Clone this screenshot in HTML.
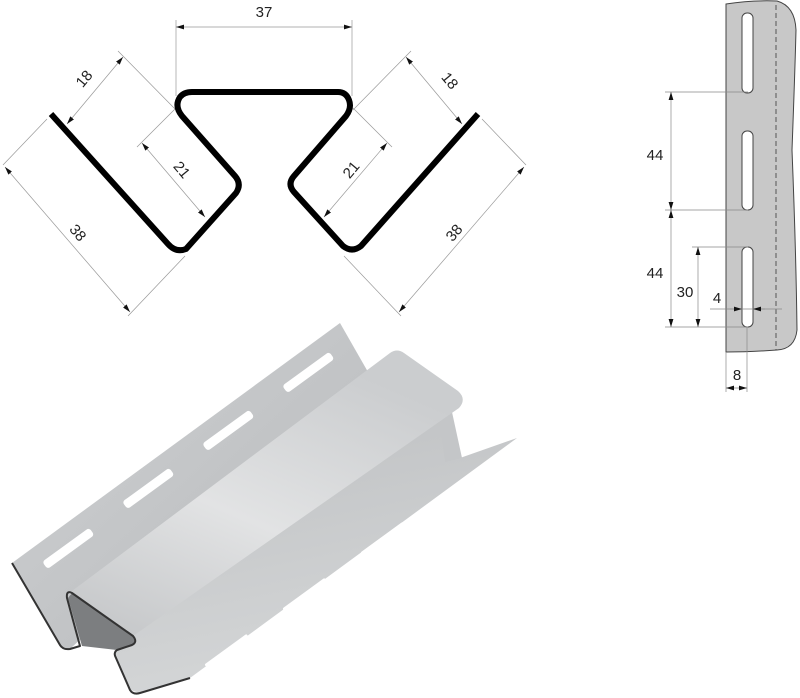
<!DOCTYPE html>
<html><head><meta charset="utf-8"><style>
html,body{margin:0;padding:0;background:#fff;}
svg{display:block;}
text{font-family:"Liberation Sans",Arial,sans-serif;font-size:15px;fill:#222;}
</style></head><body>
<svg width="800" height="698" viewBox="0 0 800 698" xmlns="http://www.w3.org/2000/svg">
<defs>
<marker id="a" viewBox="0 0 10 6" refX="10" refY="3" markerWidth="8" markerHeight="5" orient="auto-start-reverse" markerUnits="userSpaceOnUse"><path d="M0,0 L10,3 L0,6 Z" fill="#111"/></marker>
<linearGradient id="top" x1="0" y1="1" x2="0.6" y2="0"><stop offset="0" stop-color="#c2c4c6"/><stop offset="0.5" stop-color="#e2e3e4"/><stop offset="1" stop-color="#cbcdcf"/></linearGradient>
<linearGradient id="back" x1="0" y1="0" x2="1" y2="1"><stop offset="0" stop-color="#d0d2d4"/><stop offset="1" stop-color="#b6b8ba"/></linearGradient>
<linearGradient id="low" x1="0" y1="0" x2="0.3" y2="1"><stop offset="0" stop-color="#bec0c2"/><stop offset="1" stop-color="#d4d6d7"/></linearGradient>
</defs>

<!-- TOP PROFILE -->
<g stroke="#999" stroke-width="0.7" fill="none">
 <line x1="176" y1="20" x2="176" y2="96"/>
 <line x1="352" y1="20" x2="352" y2="96"/>
 <line x1="118" y1="51" x2="176" y2="110"/>
 <line x1="137" y1="147" x2="176" y2="108"/>
 <line x1="3" y1="165" x2="47" y2="119"/>
 <line x1="128" y1="316" x2="185" y2="256"/>
 <g transform="translate(529,0) scale(-1,1)">
  <line x1="118" y1="51" x2="176" y2="110"/>
  <line x1="137" y1="147" x2="176" y2="108"/>
  <line x1="3" y1="165" x2="47" y2="119"/>
  <line x1="128" y1="316" x2="185" y2="256"/>
 </g>
</g>
<g stroke="#999" stroke-width="0.7" fill="none" marker-start="url(#a)" marker-end="url(#a)">
 <line x1="176" y1="27" x2="352" y2="27"/>
 <line x1="123" y1="57" x2="67" y2="124"/>
 <line x1="142" y1="143" x2="205" y2="217"/>
 <line x1="5" y1="167" x2="130" y2="312"/>
 <line x1="406" y1="57" x2="462" y2="124"/>
 <line x1="387" y1="143" x2="324" y2="217"/>
 <line x1="524" y1="167" x2="399" y2="312"/>
</g>
<path d="M51,114 L168,244 Q176,253 186,249 L236,193 Q242,184 235,176 L182,116 Q174,106 180,97 Q184,92 192,92 L338,92 Q346,92 349,100 Q352,108 346,116 L294,176 Q287,184 294,192 L343,246 Q352,253 361,246 L478,114" fill="none" stroke="#000" stroke-width="6" stroke-linejoin="round"/>
<text x="264" y="17" text-anchor="middle">37</text>
<text transform="translate(88,82) rotate(-50)" text-anchor="middle">18</text>
<text transform="translate(178,173) rotate(50)" text-anchor="middle">21</text>
<text transform="translate(74,236) rotate(50)" text-anchor="middle">38</text>
<text transform="translate(446,84) rotate(50)" text-anchor="middle">18</text>
<text transform="translate(355,173) rotate(-50)" text-anchor="middle">21</text>
<text transform="translate(458,236) rotate(-50)" text-anchor="middle">38</text>

<!-- SIDE VIEW -->
<path d="M726,4 Q752,0 777,1 Q795,6 796,30 Q795,70 792,150 Q796,250 797,330 Q795,349 777,350 Q750,352 726,352 Z" fill="#c8c8c8" stroke="#444" stroke-width="1"/>
<line x1="776" y1="5" x2="776" y2="350" stroke="#555" stroke-width="1" stroke-dasharray="5,3"/>
<g fill="#fff" stroke="#444" stroke-width="1">
 <rect x="742" y="13" width="11" height="80" rx="5"/>
 <rect x="742" y="131" width="11" height="79" rx="5"/>
 <rect x="742" y="247" width="11" height="80" rx="5"/>
</g>
<g stroke="#888" stroke-width="0.7">
 <line x1="665" y1="92" x2="748" y2="92"/>
 <line x1="665" y1="210" x2="748" y2="210"/>
 <line x1="665" y1="327" x2="748" y2="327"/>
 <line x1="692" y1="247" x2="748" y2="247"/>
 <line x1="710" y1="309" x2="782" y2="309"/>
 <line x1="726" y1="352" x2="726" y2="392"/>
 <line x1="747" y1="327" x2="747" y2="392"/>
</g>
<g stroke="#888" stroke-width="0.7" marker-start="url(#a)" marker-end="url(#a)">
 <line x1="671" y1="92" x2="671" y2="210"/>
 <line x1="671" y1="210" x2="671" y2="327"/>
 <line x1="698" y1="247" x2="698" y2="327"/>
 <line x1="726" y1="388" x2="747" y2="388"/>
</g>
<g stroke="#888" stroke-width="0.7" marker-end="url(#a)">
 <line x1="730" y1="309" x2="742" y2="309"/>
 <line x1="765" y1="309" x2="753" y2="309"/>
</g>
<text x="655" y="160" text-anchor="middle">44</text>
<text x="655" y="278" text-anchor="middle">44</text>
<text x="685" y="297" text-anchor="middle">30</text>
<text x="717" y="303" text-anchor="middle">4</text>
<text x="737" y="380" text-anchor="middle">8</text>

<!-- 3D VIEW -->
<polygon points="12,563 340,323 368,372 70,649 60,647" fill="url(#back)"/>
<polygon points="110,625 445,415 460,458 517,438 190,678 140,693 130,690 116,658" fill="url(#low)"/>
<polygon points="440,420 452,412 462,458 445,462" fill="#c4c6c8"/>
<path d="M68,594 L390,353 Q397,348 404,353 L458,391 Q467,399 459,408 L133,636 Z" fill="url(#top)"/>
<path d="M72,593 L133,636 Q138,642 132,645 L117,650 L82,646 L68,598 Z" fill="#7c7e80"/>
<path d="M12,563 L60,645 Q63,650 70,649 L80,646 L67,598 Q66,590 72,593 L133,636 Q138,642 132,645 L117,650 Q113,653 116,658 L130,690 Q133,695 140,693 L190,678" fill="none" stroke="#333" stroke-width="2" stroke-linejoin="round"/>
<g fill="#fff">
 <rect x="39" y="544" width="58" height="9" rx="3" transform="rotate(-36 68 548)"/>
 <rect x="119" y="484" width="58" height="9" rx="3" transform="rotate(-36 148 488)"/>
 <rect x="199" y="426" width="58" height="9" rx="3" transform="rotate(-36 228 430)"/>
 <rect x="279" y="368" width="58" height="9" rx="3" transform="rotate(-36 308 372)"/>
 <rect x="200" y="649" width="52" height="3" rx="1.5" transform="rotate(-36 226 650)"/>
 <rect x="278" y="593" width="52" height="3" rx="1.5" transform="rotate(-36 304 594)"/>
 <rect x="356" y="537" width="52" height="3" rx="1.5" transform="rotate(-36 382 538)"/>
 <rect x="434" y="481" width="52" height="3" rx="1.5" transform="rotate(-36 460 482)"/>
</g>
</svg>
</body></html>
